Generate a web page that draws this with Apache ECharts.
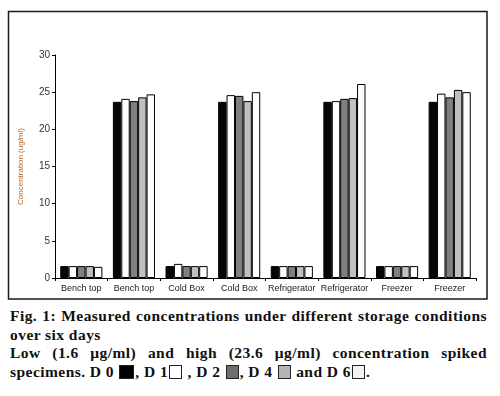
<!DOCTYPE html>
<html>
<head>
<meta charset="utf-8">
<script src="https://cdn.jsdelivr.net/npm/echarts@6/dist/echarts.min.js"></script>
<style>
  html, body { margin: 0; padding: 0; background: #fff; }
  #chart { position: absolute; left: 0; top: 0; width: 500px; height: 300px; }
  #caption {
    position: absolute; left: 10px; top: 307px; width: 477px;
    font-family: "Liberation Serif", "DejaVu Serif", serif;
    font-weight: bold; font-size: 15.5px; letter-spacing: 0.45px; line-height: 18.7px; color: #111;
  }
  .just { text-align: justify; text-align-last: justify; }
  .sw { display: inline-block; width: 13px; height: 14px; vertical-align: -2px; box-sizing: border-box; border: 1px solid #222; margin: 0 1px; }
</style>
</head>
<body>
<div id="chart"></div>
<div id="caption">
  <div class="just">Fig. 1: Measured concentrations under different storage conditions</div>
  <div>over six days</div>
  <div class="just">Low (1.6 μg/ml) and high (23.6 μg/ml) concentration spiked</div>
  <div>specimens. D 0 <span class="sw" style="background:#000;width:15px"></span>, D 1<span class="sw" style="background:#fff"></span> , D 2 <span class="sw" style="background:#6e6e6e"></span>, D 4 <span class="sw" style="background:#b4b4b4"></span> and D 6<span class="sw" style="background:#f2f2f2"></span>.</div>
</div>
<script>
// storage conditions, low / high concentration for each
const categories = ['Bench top', 'Bench top', 'Cold Box', 'Cold Box', 'Refrigerator', 'Refrigerator', 'Freezer', 'Freezer'];
const seriesNames = ['D 0', 'D 1', 'D 2', 'D 4', 'D 6'];
const d0 = [1.6, 23.7, 1.6, 23.7, 1.6, 23.7, 1.6, 23.7];
const d1 = [1.6, 24.1, 1.9, 24.6, 1.6, 23.8, 1.6, 24.8];
const d2 = [1.6, 23.8, 1.6, 24.5, 1.6, 24.1, 1.6, 24.3];
const d4 = [1.6, 24.3, 1.6, 23.8, 1.6, 24.2, 1.6, 25.3];
const d6 = [1.5, 24.7, 1.6, 25.0, 1.6, 26.1, 1.6, 25.0];
const colors = ['#060606', '#ffffff', '#808080', '#c0c0c0', '#ffffff'];

const myChart = echarts.init(document.getElementById('chart'), null, { renderer: 'canvas' });
const allData = [d0, d1, d2, d4, d6];

const option = {
    backgroundColor: '#fff',
    animation: false,
    grid: { left: 55, right: 24, top: 55, bottom: 22 },
    graphic: [
        {
            type: 'rect',
            shape: { x: 8.5, y: 11.5, width: 478.5, height: 287.5 },
            style: { fill: 'none', stroke: '#1a1a1a', lineWidth: 1.5 },
            silent: true
        }
    ],
    xAxis: {
        type: 'category',
        data: categories,
        axisLine: { lineStyle: { color: '#000', width: 1 } },
        axisTick: { show: true, length: 3, lineStyle: { color: '#000' } },
        axisLabel: {
            color: '#222', fontSize: 9, margin: 6, interval: 0,
            fontFamily: 'Liberation Sans, Arial, sans-serif'
        }
    },
    yAxis: {
        type: 'value',
        min: 0,
        max: 30,
        interval: 5,
        name: 'Concentration (ug/ml)',
        nameLocation: 'middle',
        nameGap: 30,
        nameTextStyle: { color: '#b5652a', fontSize: 8, fontFamily: 'Liberation Sans, Arial, sans-serif' },
        axisLine: { show: true, lineStyle: { color: '#000', width: 1 } },
        axisTick: { show: true, length: 3, lineStyle: { color: '#000' } },
        axisLabel: { color: '#333', fontSize: 10, margin: 5, fontFamily: 'Liberation Sans, Arial, sans-serif' },
        splitLine: { show: false }
    },
    series: seriesNames.map(function (name, i) {
        return {
            name: name,
            type: 'bar',
            data: allData[i],
            barGap: '0%',
            barCategoryGap: '20%',
            itemStyle: { color: colors[i], borderColor: '#000', borderWidth: 1 }
        };
    })
};
myChart.setOption(option);
</script>
</body>
</html>
